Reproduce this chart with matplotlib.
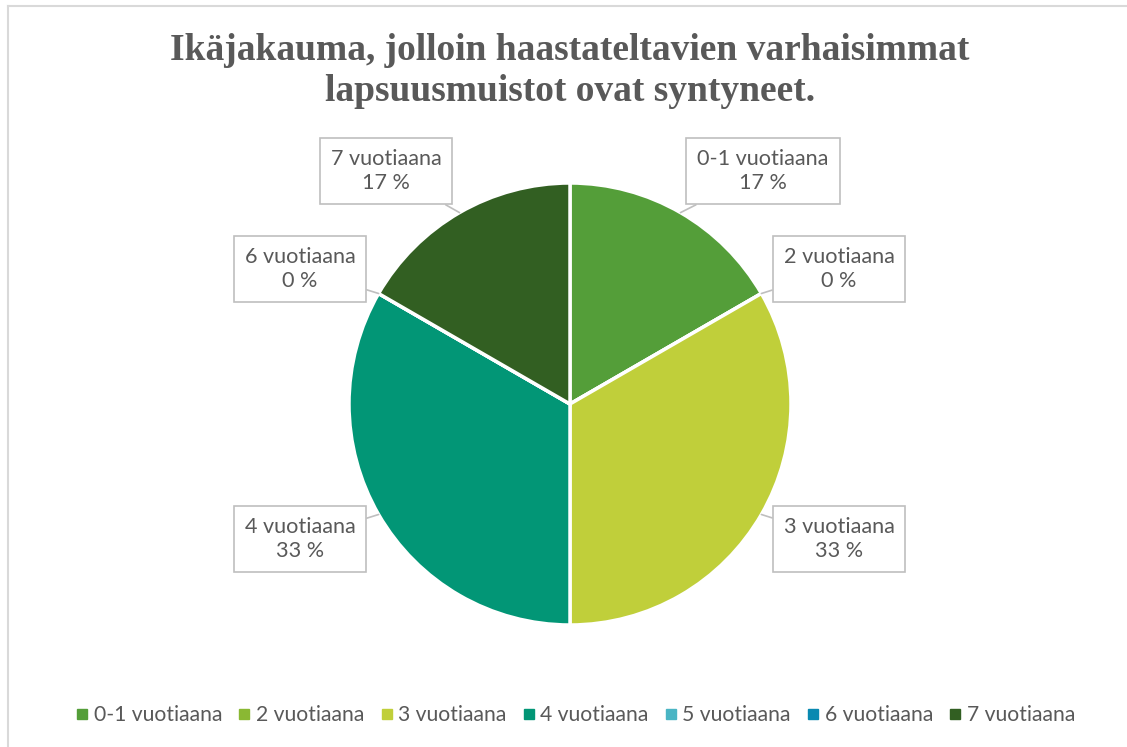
import matplotlib
matplotlib.use("Agg")
import matplotlib.pyplot as plt
from matplotlib.lines import Line2D
import numpy as np

categories = ["0-1 vuotiaana", "2 vuotiaana", "3 vuotiaana", "4 vuotiaana",
              "5 vuotiaana", "6 vuotiaana", "7 vuotiaana"]
values = [1, 0, 2, 2, 0, 0, 1]
pct_labels = ["17 %", "0 %", "33 %", "33 %", "0 %", "0 %", "17 %"]
colors = ["#549E39", "#8AB833", "#C0CF3A", "#029676", "#4AB5C4", "#0989B1", "#325F22"]
title = "Ikäjakauma, jolloin haastateltavien varhaisimmat\nlapsuusmuistot ovat syntyneet."

W, H = 1127, 747
fig = plt.figure(figsize=(W / 100, H / 100), dpi=100)
fig.patch.set_facecolor("white")

# chart frame (light grey)
fig.add_artist(Line2D([8 / W, 1], [1 - 6 / H, 1 - 6 / H], transform=fig.transFigure,
                      color="#D9D9D9", lw=1.5))
fig.add_artist(Line2D([8 / W, 8 / W], [0, 1 - 6 / H], transform=fig.transFigure,
                      color="#D9D9D9", lw=1.5))

cx, cy, R = 570, 404, 221
ax = fig.add_axes([(cx - R) / W, (H - cy - R) / H, 2 * R / W, 2 * R / H])
wedges, _ = ax.pie(values, colors=colors, startangle=90, counterclock=False,
                   radius=1, wedgeprops=dict(edgecolor="white", linewidth=2.5))
ax.set_xlim(-1, 1)
ax.set_ylim(-1, 1)
ax.set_aspect("equal")
ax.axis("off")

# label box centers (pixel coords) for each category, None = no label
box_px = [(763, 171), (839, 269), (839, 539), (300, 539), None, (300, 269), (386, 171)]

total = sum(values)
ang = 90.0
for i, v in enumerate(values):
    span = 360.0 * v / total
    mid = ang - span / 2
    ang -= span
    if box_px[i] is None:
        continue
    tx = (box_px[i][0] - cx) / R
    ty = (cy - box_px[i][1]) / R
    xy = (np.cos(np.radians(mid)), np.sin(np.radians(mid)))
    ax.annotate(categories[i] + "\n" + pct_labels[i], xy=xy, xytext=(tx, ty),
                ha="center", va="center", fontsize=15.6, family="Lato",
                color="#595959", linespacing=1.3, annotation_clip=False,
                bbox=dict(boxstyle="square,pad=0.5", fc="white", ec="#BFBFBF", lw=1.2),
                arrowprops=dict(arrowstyle="-", color="#BFBFBF", lw=1.2,
                                shrinkA=0, shrinkB=0))

fig.text(570 / W, 1 - 71 / H, title, ha="center", va="center", fontsize=27,
         family="Liberation Serif", fontweight="bold", color="#595959",
         linespacing=1.2)

handles = [Line2D([0], [0], marker="s", linestyle="none", markersize=6.5,
                  markerfacecolor=c, markeredgecolor=c) for c in colors]
fig.legend(handles, categories, loc="center", bbox_to_anchor=(575 / W, 1 - 715 / H),
           ncol=7, frameon=False, prop=dict(family="Lato", size=15.2),
           labelcolor="#595959", handletextpad=0.2, columnspacing=0.7,
           handlelength=0.7)

fig.savefig("out.png", dpi=100, facecolor="white")
